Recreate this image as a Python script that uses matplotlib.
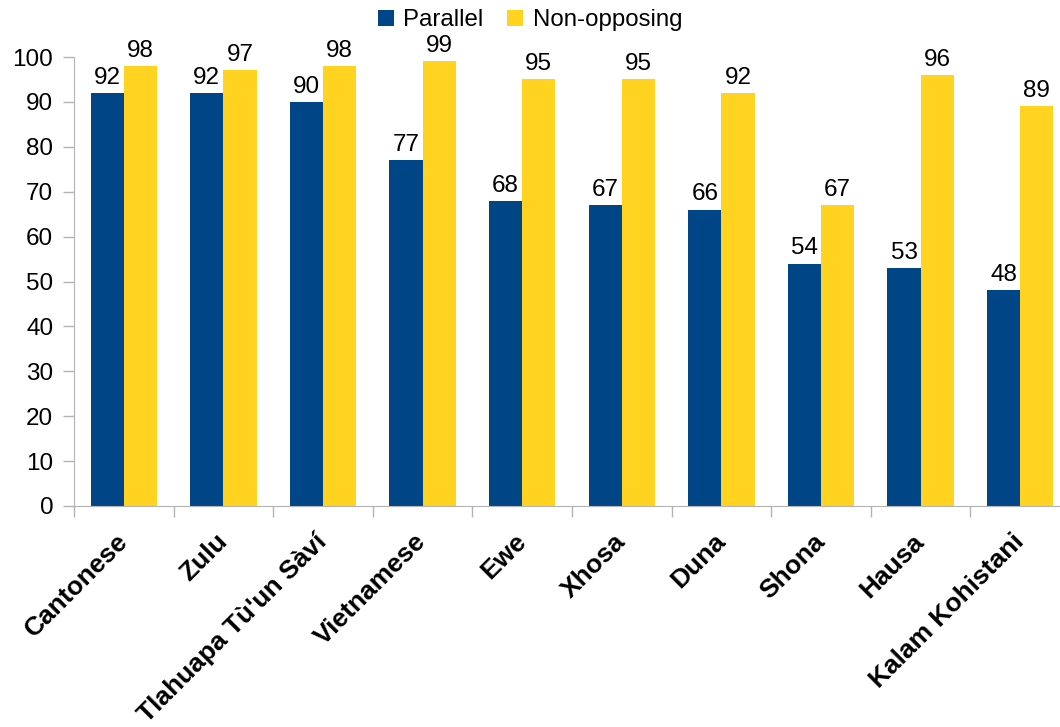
import matplotlib
matplotlib.use("Agg")
import matplotlib.pyplot as plt
import numpy as np

plt.rcParams['font.family'] = ['Liberation Sans', 'DejaVu Sans']

languages = ['Cantonese', 'Zulu', "Tlahuapa Tù'un Sàví", 'Vietnamese', 'Ewe',
             'Xhosa', 'Duna', 'Shona', 'Hausa', 'Kalam Kohistani']
parallel = [92, 92, 90, 77, 68, 67, 66, 54, 53, 48]
non_opposing = [98, 97, 98, 99, 95, 95, 92, 67, 96, 89]

blue = '#004586'
yellow = '#ffd320'
axis_grey = '#b3b3b3'

fig = plt.figure(figsize=(10.6, 7.27), dpi=100)
# axes run a little past the right edge of the picture, as in the reference
ax = fig.add_axes([74 / 1060, 1 - 506 / 727, 996 / 1060, (506 - 57) / 727])

x = np.arange(len(languages))
w = 0.333
b1 = ax.bar(x - w / 2, parallel, w, color=blue, label='Parallel')
b2 = ax.bar(x + w / 2, non_opposing, w, color=yellow, label='Non-opposing')

ax.bar_label(b1, padding=3, fontsize=17.5)
ax.bar_label(b2, padding=3, fontsize=17.5)

ax.set_xlim(-0.5, len(languages) - 0.5)
ax.set_ylim(0, 100)
ax.set_yticks(range(0, 101, 10))
ax.tick_params(axis='y', labelsize=17.5, length=8, color=axis_grey, width=1, pad=7)

ax.set_xticks(x)
ax.set_xticklabels(languages, rotation=45, ha='right', va='center',
                   rotation_mode='anchor', fontsize=19, fontweight='bold')
ax.tick_params(axis='x', which='major', length=0, pad=23)
ax.set_xticks(np.arange(-0.5, len(languages), 1), minor=True)
ax.tick_params(axis='x', which='minor', length=8, color=axis_grey, width=1)

for side in ['top', 'right']:
    ax.spines[side].set_visible(False)
for side in ['left', 'bottom']:
    ax.spines[side].set_color(axis_grey)

fig.legend(loc='upper center', bbox_to_anchor=(0.5, 1.017), ncol=2,
           frameon=False, fontsize=17.3, handlelength=0.65, handleheight=0.65,
           handletextpad=0.4, columnspacing=1.0)

fig.savefig('out.png', dpi=100, facecolor='white')
